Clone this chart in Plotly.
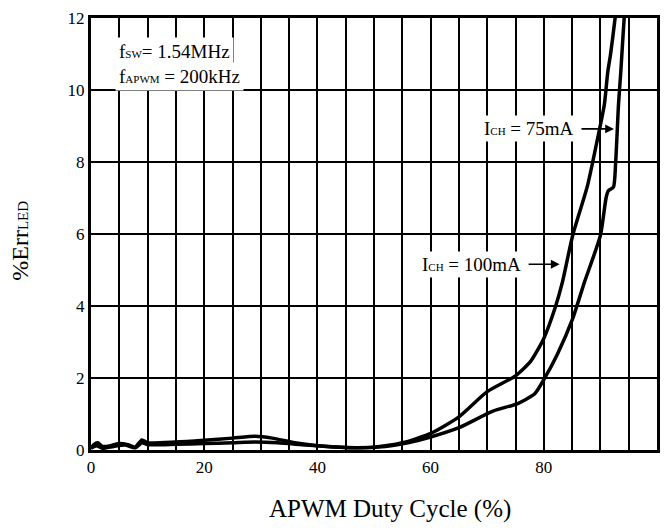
import plotly.graph_objects as go

# APWM duty cycle (%) and LED current error (%) for each channel current
duty_100ma = [0, 0.5, 1.2, 2, 3.5, 5, 6.5, 7.8, 9, 10, 15, 20, 25, 29, 32, 36, 40, 45, 50,
              55, 60, 65, 70, 75, 77.7, 80, 82, 83.3, 85.1, 87.7, 89.3, 90.7, 91.3, 91.8, 92.6, 92.8]
err_100ma = [0.05, 0.15, 0.2, 0.1, 0.12, 0.18, 0.15, 0.08, 0.28, 0.2, 0.22, 0.27, 0.33, 0.38, 0.33,
             0.2, 0.12, 0.07, 0.08, 0.2, 0.46, 0.92, 1.62, 2.06, 2.47, 3.1, 3.95, 4.67, 5.96, 7.33,
             8.5, 9.6, 10.5, 11.0, 12.0, 12.3]

duty_75ma = [0, 1, 2, 4, 6, 7.8, 9, 10, 15, 20, 25, 29, 33, 38, 42, 47, 52, 56, 60, 65, 71,
             75.4, 78.4, 80.1, 82.4, 85.1, 87.2, 90.0, 91.0, 91.4, 92.3, 92.7, 93.2, 93.6, 94.2, 94.4]
err_75ma = [0.05, 0.12, 0.05, 0.1, 0.14, 0.06, 0.2, 0.15, 0.16, 0.18, 0.2, 0.22, 0.2, 0.14, 0.1,
            0.06, 0.1, 0.2, 0.36, 0.62, 1.08, 1.29, 1.56, 1.98, 2.66, 3.65, 4.67, 5.96, 7.0, 7.2,
            7.3, 8.0, 9.6, 10.5, 12.0, 12.3]

x_ticks = [0, 20, 40, 60, 80, 100]
y_ticks = [0, 2, 4, 6, 8, 10, 12]

FONT = "Liberation Serif, Times New Roman, serif"
SMALL = "<span style='font-size:11px'>{}</span>"

fig = go.Figure()
for xs, ys in [(duty_100ma, err_100ma), (duty_75ma, err_75ma)]:
    fig.add_trace(go.Scatter(
        x=xs, y=ys, mode="lines",
        line=dict(color="black", width=3.5, shape="spline", smoothing=0.6),
        showlegend=False, hoverinfo="skip",
    ))

axis_common = dict(
    showline=True, mirror=True, linecolor="black", linewidth=3,
    showgrid=True, gridcolor="black", gridwidth=2,
    zeroline=False, ticks="", tickfont=dict(family=FONT, size=17, color="black"),
)

fig.update_xaxes(range=[0, 100], tickmode="array", tickvals=x_ticks,
                 ticktext=[str(v) for v in x_ticks],
                 minor=dict(dtick=5, tick0=0, showgrid=True, gridcolor="black", gridwidth=2),
                 **axis_common)
fig.update_yaxes(range=[0, 12], tickmode="array", tickvals=y_ticks,
                 ticktext=[str(v) for v in y_ticks], **axis_common)

annotations = [
    # operating conditions
    dict(x=0.042, y=11.07, xref="paper", yref="y", xanchor="left", yanchor="middle",
         text="f" + SMALL.format("SW") + "= 1.54MHz", showarrow=False,
         bgcolor="white", borderpad=3),
    dict(x=0.042, y=10.38, xref="paper", yref="y", xanchor="left", yanchor="middle",
         text="f" + SMALL.format("APWM") + " = 200kHz", showarrow=False,
         bgcolor="white", borderpad=3),
    # curve labels
    dict(x=92.4, y=8.92, xref="x", yref="y", ax=-85, ay=0,
         text="I" + SMALL.format("CH") + " = 75mA", showarrow=True,
         arrowhead=2, arrowsize=1.1, arrowwidth=1.6, arrowcolor="black",
         startstandoff=5, bgcolor="white", borderpad=2),
    dict(x=82.8, y=5.16, xref="x", yref="y", ax=-88, ay=0,
         text="I" + SMALL.format("CH") + " = 100mA", showarrow=True,
         arrowhead=2, arrowsize=1.1, arrowwidth=1.6, arrowcolor="black",
         startstandoff=5, bgcolor="white", borderpad=2),
    # axis titles
    dict(x=0.529, y=-0.137, xref="paper", yref="paper", xanchor="center", yanchor="middle",
         text="APWM Duty Cycle (%)", showarrow=False, font=dict(size=25)),
    dict(x=-0.125, y=0.485, xref="paper", yref="paper", xanchor="center", yanchor="middle",
         text="%Err<span style='font-size:15px'>LED</span>", showarrow=False,
         textangle=-90, font=dict(size=24)),
]

fig.update_layout(
    width=669, height=531,
    margin=dict(l=91, r=9, t=13, b=81),
    paper_bgcolor="white", plot_bgcolor="white",
    font=dict(family=FONT, size=19, color="black"),
    annotations=annotations,
)

fig.write_html("out.html")
